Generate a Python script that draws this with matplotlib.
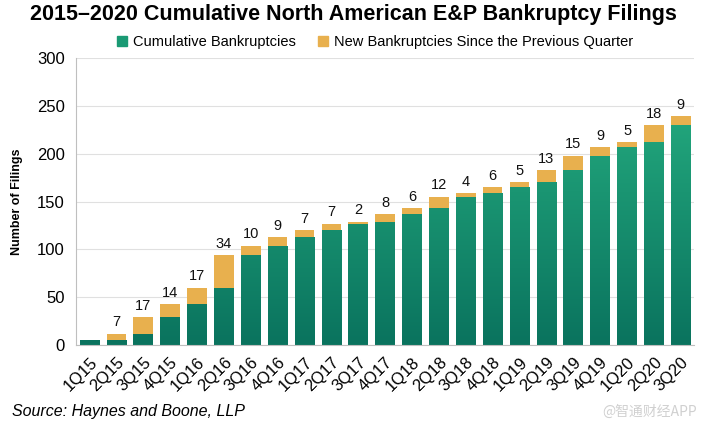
import numpy as np
import matplotlib
matplotlib.use("Agg")
import matplotlib.pyplot as plt
from matplotlib.colors import LinearSegmentedColormap
from matplotlib.patches import Patch

quarters = ["1Q15","2Q15","3Q15","4Q15","1Q16","2Q16","3Q16","4Q16","1Q17","2Q17","3Q17","4Q17",
            "1Q18","2Q18","3Q18","4Q18","1Q19","2Q19","3Q19","4Q19","1Q20","2Q20","3Q20"]
cumulative = [5,5,12,29,43,60,94,104,113,120,127,129,137,143,155,159,165,170,183,198,207,212,230]
new = [0,7,17,14,17,34,10,9,7,7,2,8,6,12,4,6,5,13,15,9,5,18,9]
new_labels = ["","7","17","14","17","34","10","9","7","7","2","8","6","12","4","6","5","13","15","9","5","18","9"]

plt.rcParams['font.family'] = ['Liberation Sans', 'DejaVu Sans']

fig = plt.figure(figsize=(7.07, 4.24), dpi=100)
ax = fig.add_axes([0.1075, 0.1863, 0.8745, 0.6767])

x = np.arange(len(quarters))
w = 0.73
green_top = "#22a67c"
green_bot = "#0a735e"
gold = "#e8b04e"

bars = ax.bar(x, cumulative, width=w, color=green_bot, zorder=2)
cmap = LinearSegmentedColormap.from_list("g", [green_bot, green_top])
grad = np.linspace(0, 1, 256).reshape(-1, 1)
for b in bars:
    im = ax.imshow(grad, extent=(b.get_x(), b.get_x() + b.get_width(), 0, 240),
                   origin='lower', cmap=cmap, aspect='auto', zorder=2.5)
    im.set_clip_path(b)
ax.bar(x, new, width=w, bottom=cumulative, color=gold, zorder=3)

for xi, c, n, lab in zip(x, cumulative, new, new_labels):
    if lab:
        ax.text(xi, c + n + 4.5, lab, ha='center', va='bottom', fontsize=10.5, color='#111111')

ax.set_xlim(-0.5, len(quarters) - 0.5)
ax.set_ylim(0, 300)
ax.set_yticks(range(0, 301, 50))
ax.tick_params(axis='y', labelsize=12, length=0, pad=8)
ax.set_xticks(x)
ax.set_xticklabels(quarters, rotation=45, ha='right', rotation_mode='anchor', fontsize=12)
ax.tick_params(axis='x', length=0, pad=7)
ax.grid(axis='y', color='#e0e0e0', linewidth=0.8, zorder=0)
ax.set_axisbelow(True)
for s in ['top', 'right']:
    ax.spines[s].set_visible(False)
ax.spines['left'].set_color('#bfbfbf')
ax.spines['bottom'].set_color('#bfbfbf')
ax.set_ylabel("Number of Filings", fontsize=9, fontweight='bold', labelpad=10)

fig.text(0.5, 0.965, "2015\u20132020 Cumulative North American E&P Bankruptcy Filings",
         ha='center', va='center', fontsize=15.5, fontweight='bold')
handles = [Patch(color="#1a9a74"), Patch(color=gold)]
fig.legend(handles, ["Cumulative Bankruptcies", "New Bankruptcies Since the Previous Quarter"],
           loc='center', bbox_to_anchor=(0.53, 0.9), ncol=2, frameon=False, fontsize=10.5,
           handlelength=0.7, handleheight=0.7, handletextpad=0.4, columnspacing=1.5)
fig.text(0.017, 0.012, "Source: Haynes and Boone, LLP", fontsize=11.5, style='italic',
         ha='left', va='bottom')
fig.text(0.985, 0.012, "@智通财经APP", fontsize=10, color='#d0d0d0', ha='right', va='bottom',
         family=['Noto Sans CJK SC', 'DejaVu Sans'])

fig.savefig("out.png", dpi=100)
